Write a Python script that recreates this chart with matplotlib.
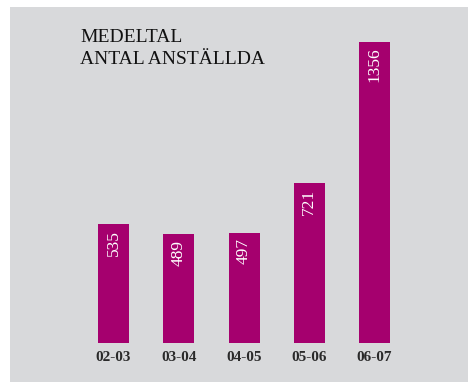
import matplotlib
matplotlib.use("Agg")
import matplotlib.pyplot as plt
from matplotlib.patches import Rectangle

# average number of employees per fiscal year
years	= ["02-03", "03-04", "04-05", "05-06", "06-07"]
staff	= [535, 489, 497, 721, 1356]
title	= "MEDELTAL\nANTAL ANSTÄLLDA"

W, H		= 468, 382
bg_grey		= "#d8d9db"
bar_col		= "#a5006e"
serif		= ["Liberation Serif", "DejaVu Serif"]

fig = plt.figure(figsize=(W / 100, H / 100), dpi=100)
fig.patch.set_facecolor("white")

# grey panel behind everything
fig.patches.append(Rectangle((10 / W, 0), (W - 10) / W, (H - 7) / H,
	transform=fig.transFigure, facecolor=bg_grey, edgecolor="none", zorder=-1))

# axes sits on the panel, bar baseline at y=343px
ax = fig.add_axes([10 / W, 1 - 343 / H, (W - 10) / W, (343 - 7) / H])
ax.set_facecolor("none")
step = 65.25
ax.set_xlim(-(113.5 - 10) / step, 4 + (468 - 374.5) / step)
ax.set_ylim(0, 336 / (301 / 1356))

xs = range(len(years))
ax.bar(xs, staff, width=31 / step, color=bar_col, zorder=2)

for x, v in zip(xs, staff):
	ax.annotate(str(v), (x, v), xytext=(0, -4), textcoords="offset points",
		rotation=90, ha="center", va="top", color="white",
		fontsize=12.5, family=serif, zorder=3)

ax.set_xticks(list(xs))
ax.set_xticklabels(years, family=serif, fontsize=11, fontweight="semibold", color="#2a2a2a")
ax.tick_params(axis="x", length=0, pad=6)
ax.set_yticks([])
for s in ax.spines.values():
	s.set_visible(False)

fig.text(80 / W, 1 - 29 / H, title, ha="left", va="top", family=serif,
	fontsize=14, color="#111111", linespacing=1.4)

fig.savefig("out.png", dpi=100)
